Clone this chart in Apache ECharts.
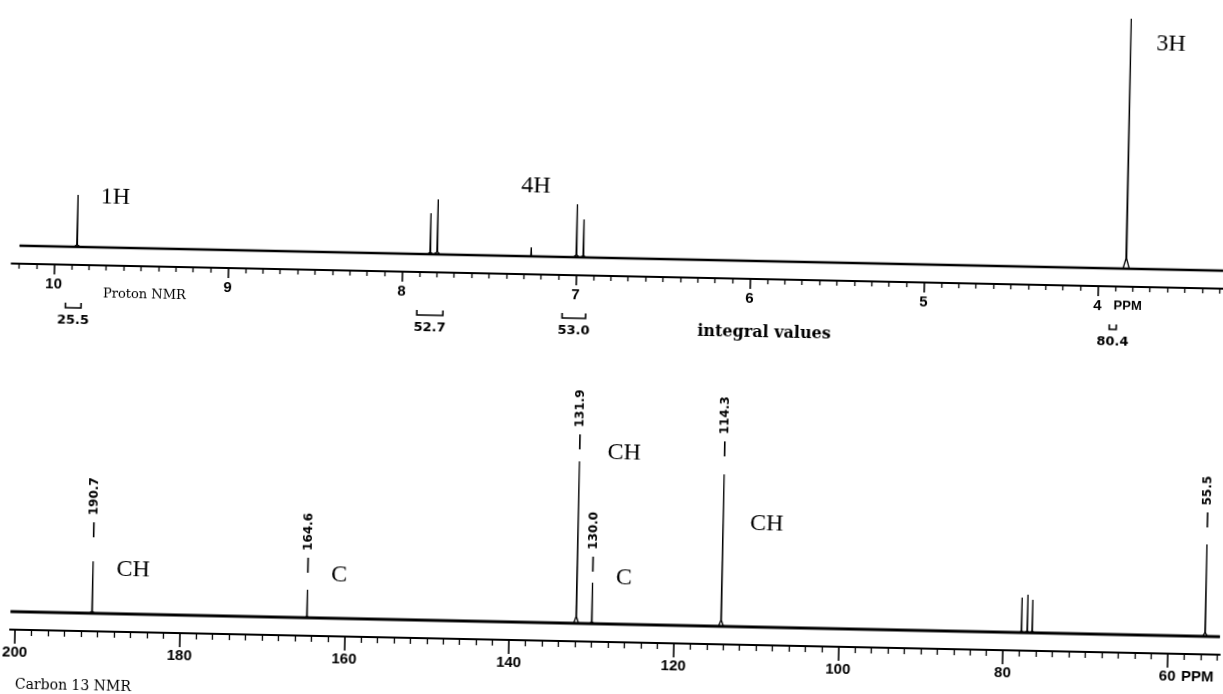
<!DOCTYPE html>
<html><head><meta charset="utf-8">
<script src="https://cdn.jsdelivr.net/npm/echarts@6/dist/echarts.min.js"></script>
<style>
html,body{margin:0;padding:0;background:#fff;overflow:hidden;width:1223px;height:694px}
#c{width:1240px;height:720px;transform-origin:611px 347px;transform:rotate(1.19deg)}
</style>
</head><body><div id="c"></div>
<script>
// ---------- Proton NMR ----------
const hAxisMin = 3.279, hAxisMax = 10.244;
const hTickValues = [10, 9, 8, 7, 6, 5, 4];
const hRange = [10.2, 3.28];
const hPeakPPM = [9.87, 7.84, 7.80, 7.26, 7.00, 6.96, 3.84];
const hPeakHeight = [52, 41, 55, 9, 53, 38, 250];
const hIntegralFrom = [9.93, 7.91, 7.075, 3.93];
const hIntegralTo = [9.84, 7.76, 6.94, 3.89];
const hIntegralValue = ['25.5', '52.7', '53.0', '80.4'];
const hNoteText = ['1H', '4H', '3H'];
const hNotePPM = [9.655, 7.241, 3.609];
const hNoteHeight = [50, 70, 225];

// ---------- Carbon 13 NMR ----------
const cAxisMin = 53.67, cAxisMax = 200.62;
const cTickValues = [200, 180, 160, 140, 120, 100, 80, 60];
const cRange = [200.6, 53.7];
const cPeakPPM = [190.7, 164.6, 131.9, 130.0, 114.3, 77.8, 77.1, 76.5, 55.5];
const cPeakHeight = [52, 28, 162, 41, 152, 35, 38, 33, 92];
const cShiftText = ['190.7', '164.6', '131.9', '130.0', '114.3', '55.5'];
const cShiftPPM = [190.7, 164.6, 131.9, 130.0, 114.3, 55.5];
const cShiftHeight = [76, 45, 174, 52, 170, 109];
const cNoteText = ['CH', 'C', 'CH', 'C', 'CH'];
const cNotePPM = [185.8, 160.8, 126.5, 126.2, 109.0];
const cNoteHeight = [44, 43, 171, 46, 103];

const Y_MIN = -18;

function minorValues(min, max, step, majorStep) {
  const out = [];
  const n0 = Math.ceil(min / step - 1e-6), n1 = Math.floor(max / step + 1e-6);
  for (let n = n0; n <= n1; n++) {
    const v = +(n * step).toFixed(4);
    if (Math.abs(v / majorStep - Math.round(v / majorStep)) > 1e-6) out.push(v);
  }
  return out;
}

// line shape of a sharp peak: narrow tip (w) with a small foot (foot)
function spectrum(range, ppm, h, w, foot) {
  const idx = ppm.map((p, i) => i).sort((a, b) => ppm[b] - ppm[a]);
  const pts = [[range[0], 0]];
  idx.forEach(i => {
    const p = ppm[i], v = h[i];
    pts.push([p + foot, 0], [p + w, v * 0.04], [p, v], [p - w, v * 0.04], [p - foot, 0]);
  });
  pts.push([range[1], 0]);
  return pts;
}

const tickFont = {color: '#000', fontFamily: 'Liberation Sans', fontWeight: 'bold', fontSize: 15};

function majorAxis(gi, min, max, ticks, majorLen, margin, ppmAt, pW, pFont) {
  return {
    gridIndex: gi, type: 'value', min: min, max: max, inverse: true,
    axisLine: {show: true, onZero: false, lineStyle: {color: '#000', width: 2}},
    axisTick: {show: true, length: majorLen, customValues: ticks, lineStyle: {color: '#000', width: 1.6}},
    splitLine: {show: false},
    axisLabel: Object.assign({}, tickFont, {
      margin: margin, customValues: ticks,
      formatter: v => v === ppmAt ? '{pad| }{n|' + v + '}{p|PPM}' : String(v),
      rich: {
        pad: {width: pW},
        n: tickFont,
        p: Object.assign({}, tickFont, {fontSize: pFont, width: pW, align: 'right'})
      }
    })
  };
}
function minorAxis(gi, min, max, vals, len) {
  return {
    gridIndex: gi, type: 'value', min: min, max: max, inverse: true, position: 'bottom',
    axisLine: {show: false, onZero: false},
    axisTick: {show: true, length: len, customValues: vals, lineStyle: {color: '#000', width: 1.3}},
    axisLabel: {show: false}, splitLine: {show: false}
  };
}

function textSeries(xi, yi, ppm, heights, texts, font) {
  return {
    type: 'custom', xAxisIndex: xi, yAxisIndex: yi, clip: false, silent: true,
    data: ppm.map((p, i) => [p, heights[i]]),
    encode: {x: 0, y: 1},
    renderItem: (params, api) => {
      const pt = api.coord([api.value(0), api.value(1)]);
      return {type: 'text', x: pt[0], y: pt[1],
        style: {text: texts[params.dataIndex], font: font, fill: '#000', align: 'center', verticalAlign: 'middle'}};
    }
  };
}

const chart = echarts.init(document.getElementById('c'), null, {renderer: 'canvas'});
chart.setOption({
  animation: false,
  backgroundColor: '#fff',
  grid: [
    {left: 10, right: 18, top: 6, bottom: 444, containLabel: false, outerBoundsMode: 'none'},
    {left: 16, right: 14, top: 380, bottom: 78, containLabel: false, outerBoundsMode: 'none'}
  ],
  xAxis: [
    majorAxis(0, hAxisMin, hAxisMax, hTickValues, 10, 12, 4, 40, 13),
    minorAxis(0, hAxisMin, hAxisMax, minorValues(hAxisMin, hAxisMax, 0.1, 1), 5),
    majorAxis(1, cAxisMin, cAxisMax, cTickValues, 14, 15, 60, 38, 15),
    minorAxis(1, cAxisMin, cAxisMax, minorValues(cAxisMin, cAxisMax, 2, 20), 6)
  ],
  yAxis: [
    {gridIndex: 0, type: 'value', min: Y_MIN, max: 252, show: false},
    {gridIndex: 1, type: 'value', min: Y_MIN, max: 244, show: false}
  ],
  graphic: [
    {type: 'text', left: 102, top: 298, style: {text: 'Proton NMR', font: '13px "DejaVu Serif"', fill: '#000'}},
    {type: 'text', left: 697, top: 322, style: {text: 'integral values', font: 'bold 16px "DejaVu Serif"', fill: '#000'}},
    {type: 'text', left: 22, top: 690, style: {text: 'Carbon 13 NMR', font: '14px "DejaVu Serif"', fill: '#000'}}
  ],
  series: [
    {type: 'line', xAxisIndex: 0, yAxisIndex: 0, showSymbol: false, silent: true,
      data: [[hRange[0], 0], [hRange[1], 0]], lineStyle: {color: '#000', width: 2.4}},
    {type: 'line', xAxisIndex: 0, yAxisIndex: 0, showSymbol: false, silent: true,
      data: spectrum(hRange, hPeakPPM, hPeakHeight, 0.002, 0.018), lineStyle: {color: '#000', width: 1.3}},
    textSeries(0, 0, hNotePPM, hNoteHeight, hNoteText, '24px "Liberation Serif"'),
    {type: 'custom', xAxisIndex: 0, yAxisIndex: 0, clip: false, silent: true,
      data: hIntegralFrom.map((f, i) => [f, hIntegralTo[i], 0]),
      encode: {x: [0, 1], y: 2},
      renderItem: (params, api) => {
        const a = api.coord([api.value(0), Y_MIN]);
        const b = api.coord([api.value(1), Y_MIN]);
        const yb = a[1] + 43;
        return {type: 'group', children: [
          {type: 'polyline', shape: {points: [[a[0], yb - 5], [a[0], yb], [b[0], yb], [b[0], yb - 5]]},
            style: {stroke: '#000', lineWidth: 1.6, fill: null}},
          {type: 'text', x: (a[0] + b[0]) / 2, y: a[1] + 56,
            style: {text: hIntegralValue[params.dataIndex], font: 'bold 13px "DejaVu Sans"', fill: '#000', align: 'center', verticalAlign: 'middle'}}
        ]};
      }
    },
    {type: 'line', xAxisIndex: 2, yAxisIndex: 1, showSymbol: false, silent: true,
      data: [[cRange[0], 0], [cRange[1], 0]], lineStyle: {color: '#000', width: 3}},
    {type: 'line', xAxisIndex: 2, yAxisIndex: 1, showSymbol: false, silent: true,
      data: spectrum(cRange, cPeakPPM, cPeakHeight, 0.03, 0.3), lineStyle: {color: '#000', width: 1.3}},
    textSeries(2, 1, cNotePPM, cNoteHeight, cNoteText, '24px "Liberation Serif"'),
    {type: 'custom', xAxisIndex: 2, yAxisIndex: 1, clip: false, silent: true,
      data: cShiftPPM.map((p, i) => [p, cShiftHeight[i]]),
      encode: {x: 0, y: 1},
      renderItem: (params, api) => {
        const pt = api.coord([api.value(0), api.value(1)]);
        return {type: 'group', children: [
          {type: 'line', shape: {x1: pt[0], y1: pt[1], x2: pt[0], y2: pt[1] - 15},
            style: {stroke: '#000', lineWidth: 1.6}},
          {type: 'text', x: pt[0], y: pt[1] - 22, rotation: Math.PI / 2,
            style: {text: cShiftText[params.dataIndex], font: 'bold 12px "DejaVu Sans"', fill: '#000', align: 'left', verticalAlign: 'middle'}}
        ]};
      }
    }
  ]
});
</script>
</body></html>
